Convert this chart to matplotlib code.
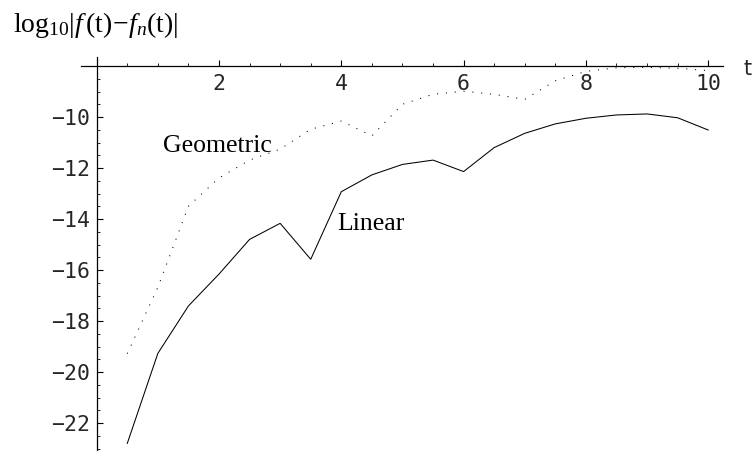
import numpy as np
import matplotlib
matplotlib.use("Agg")
import matplotlib.pyplot as plt
from matplotlib.ticker import FixedLocator

# sample times and log10 errors of the two approximations
t = [0.5, 1.0, 1.5, 2.0, 2.5, 3.0, 3.5, 4.0, 4.5, 5.0,
     5.5, 6.0, 6.5, 7.0, 7.5, 8.0, 8.5, 9.0, 9.5, 10.0]
linear_err = [-22.8, -19.27, -17.41, -16.16, -14.8, -14.17, -15.58, -12.93, -12.27, -11.86,
              -11.69, -12.14, -11.2, -10.64, -10.27, -10.05, -9.92, -9.88, -10.03, -10.51]
geometric_err = [-19.28, -16.68, -13.5, -12.39, -11.69, -11.26, -10.48, -10.16, -10.74, -9.5,
                 -9.11, -8.99, -9.11, -9.31, -8.58, -8.21, -8.07, -8.05, -8.09, -8.18]

x_ticks = [2, 4, 6, 8, 10]
y_ticks = [-10, -12, -14, -16, -18, -20, -22]

W, H, DPI = 753, 451, 100
fig = plt.figure(figsize=(W / DPI, H / DPI), dpi=DPI)

# axes placed in pixel terms: x from -0.26 to 10.24, y from -23.1 to -7.65
x0, x1 = -0.26, 10.24
y0, y1 = -23.1, -7.65
px_x, px_y = 61.15, 25.5          # pixels per data unit
left_px = 96.7 + x0 * px_x
top_px = 66.0 - (y1 - (-8)) * px_y
w_px = (x1 - x0) * px_x
h_px = (y1 - y0) * px_y
ax = fig.add_axes([left_px / W, 1 - (top_px + h_px) / H, w_px / W, h_px / H])
ax.set_xlim(x0, x1)
ax.set_ylim(y0, y1)
ax.patch.set_visible(False)

lw = 0.75
ax.plot(t, linear_err, color="black", lw=lw, solid_joinstyle="miter")
ax.plot(t, geometric_err, color="black", lw=lw, linestyle=(0, (1.0, 7.5)))

# axes crossing at (0, -8)
for s in ("top", "right"):
    ax.spines[s].set_visible(False)
ax.spines["left"].set_position(("data", 0))
ax.spines["bottom"].set_position(("data", -8))
for s in ("left", "bottom"):
    ax.spines[s].set_linewidth(0.9)

tick_font = {"family": "DejaVu Sans Mono", "size": 15.5, "color": "#262626"}
ax.xaxis.set_major_locator(FixedLocator(x_ticks))
ax.xaxis.set_minor_locator(FixedLocator(np.arange(0.5, 10.01, 0.5)))
ax.yaxis.set_major_locator(FixedLocator(y_ticks))
ax.yaxis.set_minor_locator(FixedLocator(np.arange(-8.5, -23.01, -0.5)))
ax.set_xticklabels([str(v) for v in x_ticks], fontdict=tick_font)
ax.set_yticklabels([("\u2212" + str(-v)) for v in y_ticks], fontdict=tick_font)
ax.tick_params(which="major", direction="in", length=4.2, width=0.8, color="black")
ax.tick_params(which="minor", direction="in", length=2.4, width=0.6, color="black")
ax.tick_params(axis="x", which="major", pad=5.5)
ax.tick_params(axis="y", which="major", pad=4.5)

# curve labels
serif = "Liberation Serif"
ax.text(1.975, -11.37, "Geometric", family=serif, fontsize=18.5, ha="center", va="baseline")
ax.text(4.49, -14.43, "Linear", family=serif, fontsize=18.5, ha="center", va="baseline")

# axis labels
plt.rcParams["mathtext.fontset"] = "custom"
plt.rcParams["mathtext.rm"] = serif
plt.rcParams["mathtext.it"] = serif + ":italic"
fig.text(13 / W, 1 - 32 / H, r"$\mathrm{log}_{10}|f\,(\mathrm{t})\!-\!f_n(\mathrm{t})|$",
         fontsize=20, ha="left", va="baseline")
fig.text(743 / W, 1 - 75 / H, "t", family="DejaVu Sans", fontsize=15, color="#262626",
         ha="left", va="baseline")

fig.savefig("out.png", dpi=DPI)
